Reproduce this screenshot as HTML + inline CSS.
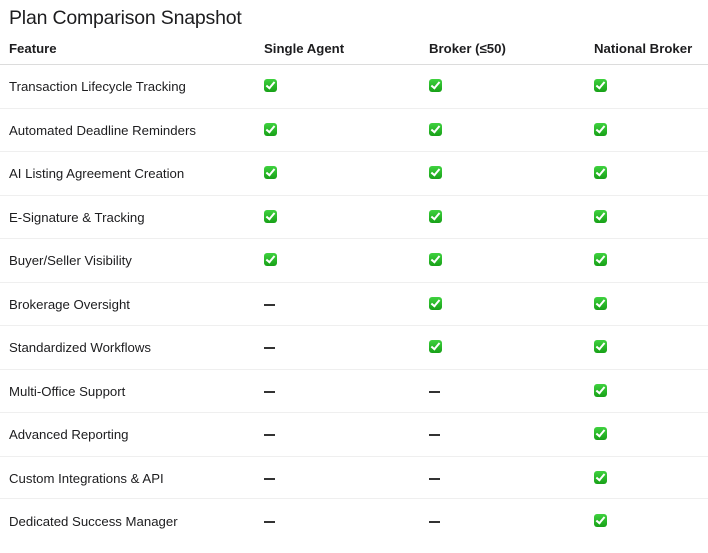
<!DOCTYPE html>
<html><head><meta charset="utf-8"><style>
body{margin:0;width:708px;height:553px;background:#fff;position:relative;overflow:hidden;font-family:"Liberation Sans",sans-serif;color:#1d1d1f}
.t{position:absolute;left:9px;top:6px;font-size:19.5px;line-height:24px;font-weight:500;letter-spacing:-0.2px}
.r{position:absolute;left:0;width:708px;height:20px;line-height:20px;font-size:13.2px}
.r span{position:absolute;top:1px;white-space:nowrap}
.h{font-weight:bold}
.c1{left:9px}.c2{left:264px}.c3{left:429px}.c4{left:594px}
.ln{position:absolute;left:0;width:708px;height:1px;background:#efefef}
.hl{background:#dcdcdc}
.ck{display:inline-block;width:13px;height:13px;border-radius:3px;background:linear-gradient(#3fd23f,#17a017);position:relative;top:0px;vertical-align:top;margin-top:2px}
.ck:after{content:"";position:absolute;left:4px;top:1px;width:3px;height:7px;border:solid #fff;border-width:0 2px 2px 0;transform:rotate(40deg)}
.d{display:inline-block;width:11px;height:1.5px;background:#333;vertical-align:middle;margin-top:-1px}
</style></head><body>
<div class="t">Plan Comparison Snapshot</div>
<div class="r h" style="top:38px"><span class="c1">Feature</span><span class="c2">Single Agent</span><span class="c3">Broker (≤50)</span><span class="c4">National Broker</span></div>
<div class="ln hl" style="top:64px"></div>

<div class="r" style="top:76px"><span class="c1">Transaction Lifecycle Tracking</span><span class="c2"><i class="ck"></i></span><span class="c3"><i class="ck"></i></span><span class="c4"><i class="ck"></i></span></div>
<div class="ln" style="top:108px"></div>
<div class="r" style="top:120px"><span class="c1">Automated Deadline Reminders</span><span class="c2"><i class="ck"></i></span><span class="c3"><i class="ck"></i></span><span class="c4"><i class="ck"></i></span></div>
<div class="ln" style="top:151px"></div>
<div class="r" style="top:163px"><span class="c1">AI Listing Agreement Creation</span><span class="c2"><i class="ck"></i></span><span class="c3"><i class="ck"></i></span><span class="c4"><i class="ck"></i></span></div>
<div class="ln" style="top:195px"></div>
<div class="r" style="top:207px"><span class="c1">E-Signature &amp; Tracking</span><span class="c2"><i class="ck"></i></span><span class="c3"><i class="ck"></i></span><span class="c4"><i class="ck"></i></span></div>
<div class="ln" style="top:238px"></div>
<div class="r" style="top:250px"><span class="c1">Buyer/Seller Visibility</span><span class="c2"><i class="ck"></i></span><span class="c3"><i class="ck"></i></span><span class="c4"><i class="ck"></i></span></div>
<div class="ln" style="top:282px"></div>
<div class="r" style="top:294px"><span class="c1">Brokerage Oversight</span><span class="c2"><i class="d"></i></span><span class="c3"><i class="ck"></i></span><span class="c4"><i class="ck"></i></span></div>
<div class="ln" style="top:325px"></div>
<div class="r" style="top:337px"><span class="c1">Standardized Workflows</span><span class="c2"><i class="d"></i></span><span class="c3"><i class="ck"></i></span><span class="c4"><i class="ck"></i></span></div>
<div class="ln" style="top:369px"></div>
<div class="r" style="top:381px"><span class="c1">Multi-Office Support</span><span class="c2"><i class="d"></i></span><span class="c3"><i class="d"></i></span><span class="c4"><i class="ck"></i></span></div>
<div class="ln" style="top:412px"></div>
<div class="r" style="top:424px"><span class="c1">Advanced Reporting</span><span class="c2"><i class="d"></i></span><span class="c3"><i class="d"></i></span><span class="c4"><i class="ck"></i></span></div>
<div class="ln" style="top:456px"></div>
<div class="r" style="top:468px"><span class="c1">Custom Integrations &amp; API</span><span class="c2"><i class="d"></i></span><span class="c3"><i class="d"></i></span><span class="c4"><i class="ck"></i></span></div>
<div class="ln" style="top:498px"></div>
<div class="r" style="top:511px"><span class="c1">Dedicated Success Manager</span><span class="c2"><i class="d"></i></span><span class="c3"><i class="d"></i></span><span class="c4"><i class="ck"></i></span></div>
</body></html>
